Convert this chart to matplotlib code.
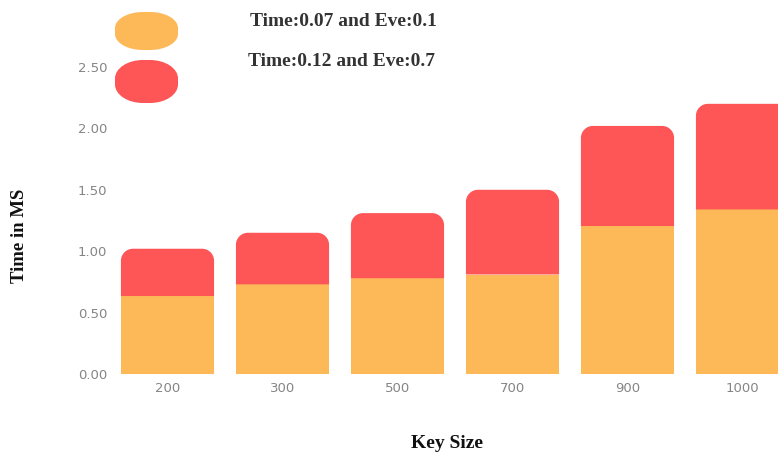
#!/usr/bin/env python3
"""
Stacked bar chart of key generation time vs key size, with rounded bar tops
"""
import matplotlib
matplotlib.use("Agg")
import matplotlib.pyplot as plt
from matplotlib.path import Path
from matplotlib.patches import PathPatch

key_sizes = ["200", "300", "500", "700", "900", "1000"]
time_part = [0.635, 0.73, 0.78, 0.81, 1.205, 1.34]
eve_part = [0.385, 0.42, 0.53, 0.69, 0.815, 0.86]
legend_labels = ["Time:0.07 and Eve:0.1", "Time:0.12 and Eve:0.7"]

ORANGE = "#FDB858"
RED = "#FE5557"
BAR_W = 0.81


def rounded_rect(x0, x1, y0, y1, rx, ry, bottom=True):
    """Rectangle path with elliptic corners; bottom corners square if bottom=False"""
    k = 0.5523
    top_y = y1 - ry if y1 > y0 else y1 + ry
    sy = 1 if y1 > y0 else -1
    verts = [(x0, y0 + sy * ry) if bottom else (x0, y0), (x0, top_y),
             (x0, top_y + sy * k * ry), (x0 + rx - k * rx, y1), (x0 + rx, y1),
             (x1 - rx, y1),
             (x1 - rx + k * rx, y1), (x1, top_y + sy * k * ry), (x1, top_y)]
    codes = [Path.MOVETO, Path.LINETO,
             Path.CURVE4, Path.CURVE4, Path.CURVE4,
             Path.LINETO,
             Path.CURVE4, Path.CURVE4, Path.CURVE4]
    if bottom:
        verts += [(x1, y0 + sy * ry),
                  (x1, y0 + sy * ry - sy * k * ry), (x1 - rx + k * rx, y0), (x1 - rx, y0),
                  (x0 + rx, y0),
                  (x0 + rx - k * rx, y0), (x0, y0 + sy * ry - sy * k * ry), (x0, y0 + sy * ry)]
        codes += [Path.LINETO,
                  Path.CURVE4, Path.CURVE4, Path.CURVE4,
                  Path.LINETO,
                  Path.CURVE4, Path.CURVE4, Path.CURVE4]
    else:
        verts += [(x1, y0), (x0, y0)]
        codes += [Path.LINETO, Path.LINETO]
    verts.append(verts[0])
    codes.append(Path.CLOSEPOLY)
    return Path(verts, codes)


fig = plt.figure(figsize=(7.78, 4.58), dpi=100)
W, H = 778, 458

# axes placed in pixel terms; right side runs past the figure edge
left_px, right_px = 110, 800
top_px, bottom_px = 54.7, 374
ax = fig.add_axes([left_px / W, (H - bottom_px) / H,
                   (right_px - left_px) / W, (bottom_px - top_px) / H])

x = range(len(key_sizes))
ax.bar(x, time_part, width=BAR_W, color=ORANGE, linewidth=0)

# corner radius of ~12 px converted to data units on each axis
rx = 12 / 115.0
ry = 12 / 122.8
for i, (b, h) in enumerate(zip(time_part, eve_part)):
    p = rounded_rect(i - BAR_W / 2, i + BAR_W / 2, b, b + h, rx, ry, bottom=False)
    ax.add_patch(PathPatch(p, facecolor=RED, edgecolor="none"))

ax.set_xlim(-0.5, len(key_sizes) - 0.5)
ax.set_ylim(0, 2.6)
ax.set_xticks(list(x))
ax.set_xticklabels(key_sizes)
yt = [0, 0.5, 1.0, 1.5, 2.0, 2.5]
ax.set_yticks(yt)
ax.set_yticklabels([f"{v:.2f}" for v in yt])
ax.tick_params(length=0, labelsize=9.5, labelcolor="#858585")
ax.tick_params(axis="y", pad=2)
ax.tick_params(axis="x", pad=6)
for s in ax.spines.values():
    s.set_visible(False)

# overlay in pixel coordinates for legend pills and axis titles
ov = fig.add_axes([0, 0, 1, 1], zorder=5)
ov.set_xlim(0, W)
ov.set_ylim(H, 0)
ov.axis("off")
ov.patch.set_alpha(0)

for (y0, y1, col) in [(12, 50, ORANGE), (60, 103, RED)]:
    p = rounded_rect(115, 178, y0, y1, 28, (y1 - y0) / 2 - 3)
    ov.add_patch(PathPatch(p, facecolor=col, edgecolor="none"))

serif = ["Liberation Serif", "DejaVu Serif"]
ov.text(250, 21, legend_labels[0], family=serif, fontweight="bold",
        fontsize=14, color="#333333", ha="left", va="center")
ov.text(248, 62, legend_labels[1], family=serif, fontweight="bold",
        fontsize=14, color="#333333", ha="left", va="center")

ov.text(20, 236, "Time in MS", family=serif, fontweight="bold", fontsize=13.5,
        color="#111111", rotation=90, ha="center", va="center")
ov.text(447, 444, "Key Size", family=serif, fontweight="bold", fontsize=14,
        color="#111111", ha="center", va="center")

fig.savefig("out.png", dpi=100)
